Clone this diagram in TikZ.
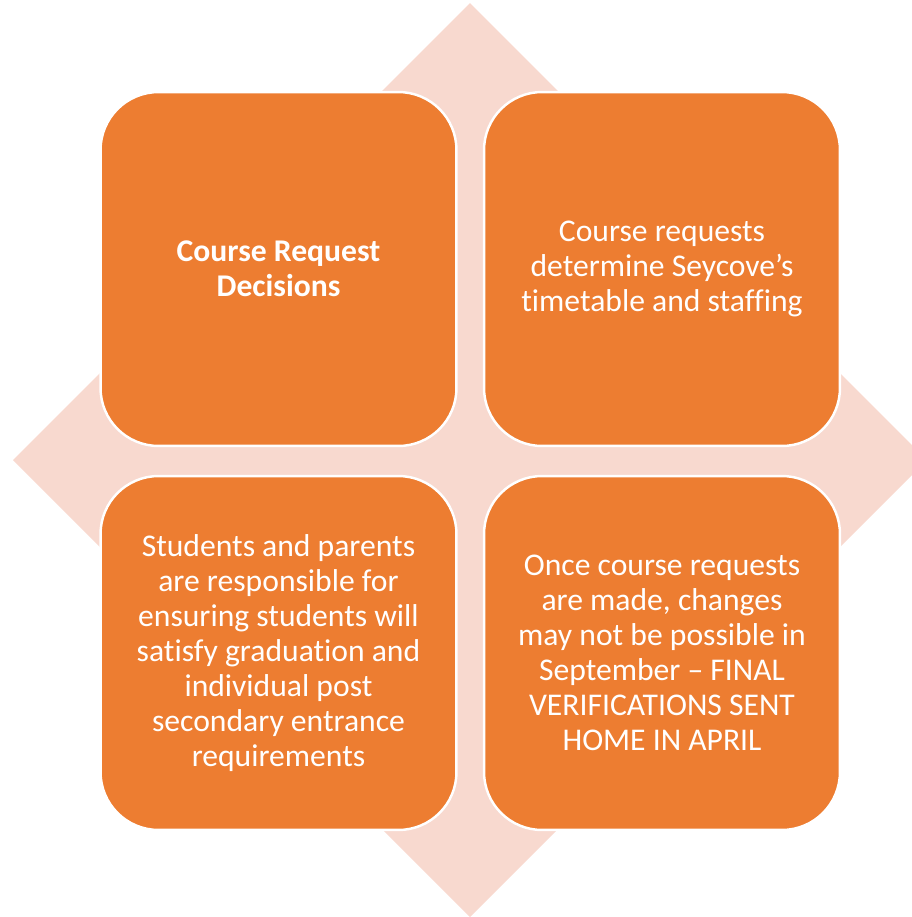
\documentclass[tikz,border=0pt]{standalone}
\usepackage{fontspec}
\setmainfont{Carlito}[RawFeature={-liga}]
\usepackage{xcolor}
\definecolor{tileorange}{HTML}{ED7D31}
\definecolor{diamondpink}{HTML}{F8D9CF}

\tikzset{
	tile/.style={draw=white, line width=1.4pt, fill=tileorange, text=white,
		rounded corners=1.16cm, minimum width=7.12cm, minimum height=7.08cm,
		align=center, font=\fontsize{18}{19.9}\selectfont}
}

\begin{document}
\begin{tikzpicture}
	[x=0.02cm, y=-0.02cm]
	\useasboundingbox (0,0) rectangle (912,917);
	\clip (0,0) rectangle (912,917);
	\fill [diamondpink] (470,3) -- (927,460) -- (470,917) -- (13,460) -- cycle;

	\node [tile] (n1) at (278.5,269) {\textbf{Course Request}\\\textbf{Decisions}};
	\node [tile] (n2) at (662,269) {Course requests\\determine Seycove’s\\timetable and staffing};
	\node [tile] (n3) at (278.5,653) {Students and parents\\are responsible for\\ensuring students will\\satisfy graduation and\\individual post\\secondary entrance\\requirements};
	\node [tile] (n4) at (662,653) {Once course requests\\are made, changes\\may not be possible in\\September – FINAL\\VERIFICATIONS SENT\\HOME IN APRIL};
\end{tikzpicture}
\end{document}
